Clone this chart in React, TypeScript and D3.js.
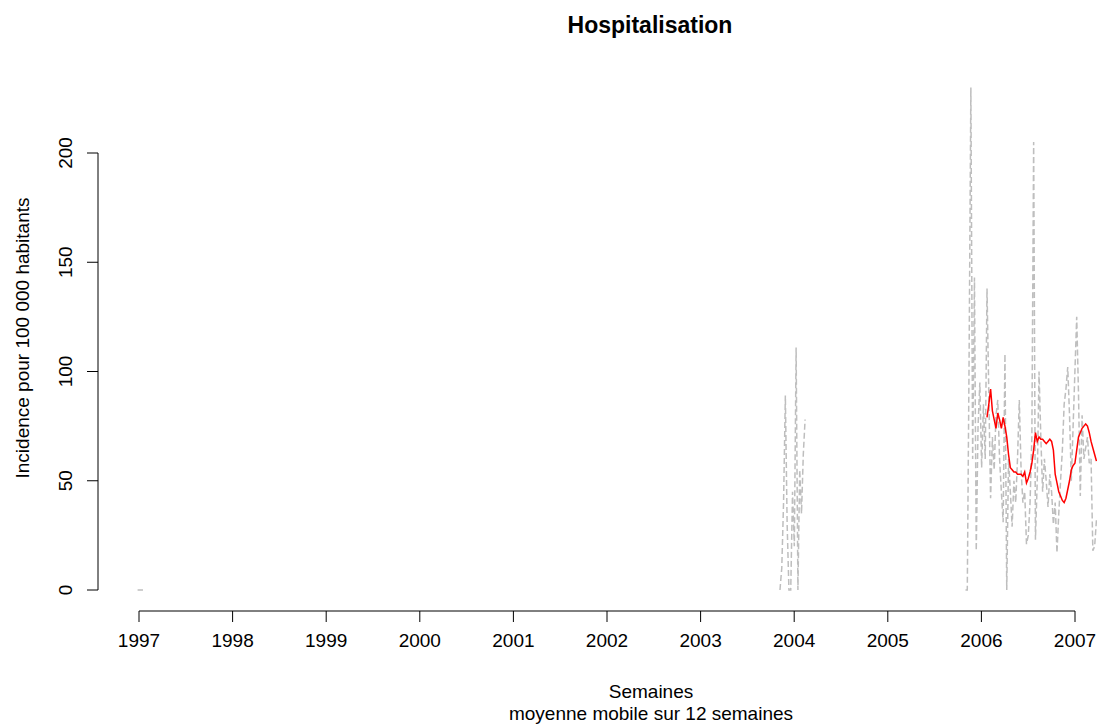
import React from "react";
import * as d3 from "d3";

const W = 1097;
const H = 724;

const xTicks = [1997, 1998, 1999, 2000, 2001, 2002, 2003, 2004, 2005, 2006, 2007];
const yTicks = [0, 50, 100, 150, 200];

const WEEK = 7 / 365.25;

// weekly incidence, three observed stretches
const seg1Start = 1996.985;
const seg1Values = [0, 0, 0, 0];

const seg2Start = 2003.848;
const seg2Values = [0, 10, 40, 89, 30, 0, 0, 45, 20, 111, 0, 55, 35, 62, 78];

const seg3Start = 2005.83;
const seg3Values = [
  0, 0, 105, 230, 60, 143, 18, 75, 95, 56, 85, 60, 138, 90, 42, 70, 55, 80, 87, 60,
  45, 31, 108, 0, 60, 45, 29, 50, 40, 60, 87, 55, 40, 45, 21, 25, 40, 70, 205, 23,
  50, 100, 70, 45, 60, 50, 38, 53, 45, 30, 40, 17, 35, 50, 64, 85, 92, 102, 80, 50,
  75, 100, 125, 90, 43, 80, 60, 65, 70, 58, 60, 18, 20, 32,
];

// 12-week moving average
const maStart = seg3Start + 12 * WEEK;
const maValues = [
  79, 85, 92, 82, 78, 74, 81, 78, 74, 79, 75, 70, 62, 56, 55, 54, 54, 53, 53, 53,
  52, 54, 49, 51, 54, 58, 64, 72, 68, 70, 69, 69, 68, 67, 68, 69, 68, 64, 53, 49,
  45, 43, 41, 40, 42, 46, 50, 55, 57, 58, 64, 70, 72, 74, 75, 76, 75, 72, 68, 65,
  62, 59,
];

type Pt = { t: number; v: number };
const toPts = (start: number, vals: number[]): Pt[] =>
  vals.map((v, i) => ({ t: start + i * WEEK, v }));

export default function App() {
  const x = d3.scaleLinear().domain([1997, 2007]).range([139, 1075]);
  const y = d3.scaleLinear().domain([0, 200]).range([590, 153]);

  const line = d3
    .line<Pt>()
    .x((d) => x(d.t))
    .y((d) => y(d.v));

  const graySegs = [
    toPts(seg1Start, seg1Values),
    toPts(seg2Start, seg2Values),
    toPts(seg3Start, seg3Values),
  ];
  const ma = toPts(maStart, maValues);

  const font = "'Liberation Sans', Arial, sans-serif";
  const axisY = 611;

  return (
    <svg
      width={W}
      height={H}
      style={{ position: "absolute", left: 0, top: 0, background: "#fff" }}
      fontFamily={font}
    >
      <rect x={0} y={0} width={W} height={H} fill="#fff" />
      <text x={650} y={33} textAnchor="middle" fontSize={23} fontWeight="bold" fill="#000">
        Hospitalisation
      </text>

      {graySegs.map((s, i) => (
        <path
          key={i}
          d={line(s) || ""}
          fill="none"
          stroke="#BEBEBE"
          strokeWidth={1.5}
          strokeDasharray="6,3"
        />
      ))}
      <path d={line(ma) || ""} fill="none" stroke="#FF0000" strokeWidth={1.5} />

      {/* y axis */}
      <line x1={98} x2={98} y1={y(0)} y2={y(200)} stroke="#000" />
      {yTicks.map((t) => (
        <g key={t}>
          <line x1={87} x2={98} y1={y(t)} y2={y(t)} stroke="#000" />
          <text
            transform={`translate(72,${y(t)}) rotate(-90)`}
            textAnchor="middle"
            fontSize={19}
            fill="#000"
          >
            {t}
          </text>
        </g>
      ))}

      {/* x axis */}
      <line x1={x(1997)} x2={x(2007)} y1={axisY} y2={axisY} stroke="#000" />
      {xTicks.map((t) => (
        <g key={t}>
          <line x1={x(t)} x2={x(t)} y1={axisY} y2={axisY + 11} stroke="#000" />
          <text x={x(t)} y={647} textAnchor="middle" fontSize={19} fill="#000">
            {t}
          </text>
        </g>
      ))}

      <text x={651} y={698} textAnchor="middle" fontSize={19} fill="#000">
        Semaines
      </text>
      <text x={651} y={720} textAnchor="middle" fontSize={19} fill="#000">
        moyenne mobile sur 12 semaines
      </text>
      <text
        transform={`translate(29,338) rotate(-90)`}
        textAnchor="middle"
        fontSize={19}
        fill="#000"
      >
        Incidence pour 100 000 habitants
      </text>
    </svg>
  );
}
